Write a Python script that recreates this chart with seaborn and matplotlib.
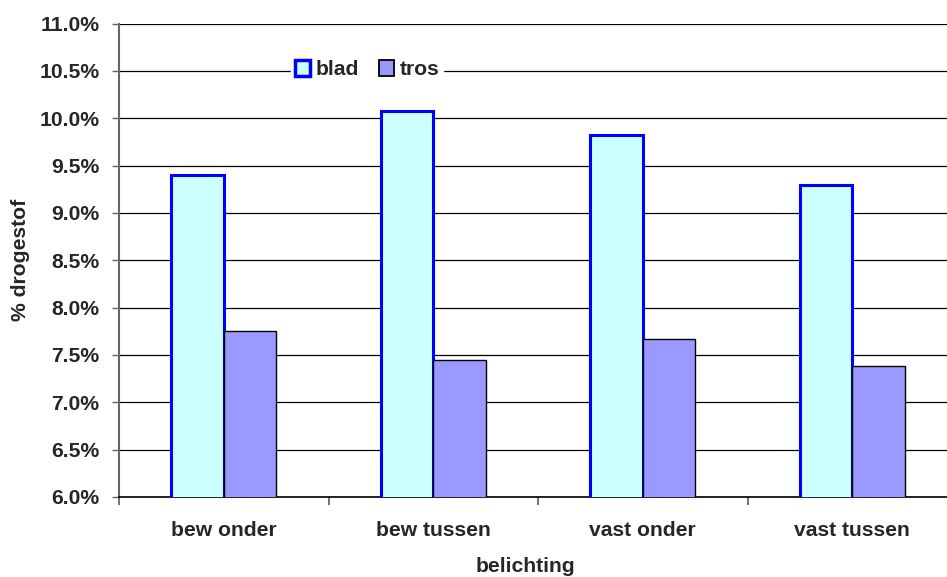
import matplotlib
matplotlib.use("Agg")
import matplotlib.pyplot as plt
from matplotlib.patches import Patch
from matplotlib.ticker import FuncFormatter, MultipleLocator, FixedLocator
import seaborn as sns
import pandas as pd

# data
categories = ["bew onder", "bew tussen", "vast onder", "vast tussen"]
blad = [9.40, 10.08, 9.82, 9.29]
tros = [7.75, 7.45, 7.67, 7.38]
series = ["blad", "tros"]

df = pd.DataFrame({
    "belichting": categories * 2,
    "serie": ["blad"] * len(categories) + ["tros"] * len(categories),
    "drogestof": blad + tros,
})

sns.set_style("white")
plt.rcParams["font.family"] = ["Liberation Sans", "DejaVu Sans"]
plt.rcParams["font.weight"] = "bold"

FS = 15.2

fig = plt.figure(figsize=(9.47, 5.77), dpi=100)
ax = fig.add_axes([119 / 947, 1 - 497 / 577, 838 / 947, (497 - 23.5) / 577])

face = {"blad": "#CCFFFF", "tros": "#9999FF"}
edge = {"blad": "#0000FF", "tros": "#000000"}
lw = {"blad": 2.2, "tros": 1.0}

sns.barplot(data=df, x="belichting", y="drogestof", hue="serie", order=categories,
            hue_order=series, width=0.5, dodge=True, ax=ax, legend=False,
            palette=face, saturation=1)

# style bars per series (containers follow hue order)
for cont, s in zip(ax.containers, series):
    for bar in cont:
        bar.set_facecolor(face[s])
        bar.set_edgecolor(edge[s])
        bar.set_linewidth(lw[s])
        bar.set_zorder(3)

ax.set_ylim(6.0, 11.0)
ax.set_xlim(-0.5, len(categories) - 0.5)
ax.yaxis.set_major_locator(MultipleLocator(0.5))
ax.yaxis.set_major_formatter(FuncFormatter(lambda v, p: f"{v:.1f}%"))
ax.grid(axis="y", color="black", linewidth=0.9, zorder=0)
ax.set_axisbelow(True)

for side in ["top", "right"]:
    ax.spines[side].set_visible(False)
ax.spines["left"].set_color("#666666")
ax.spines["left"].set_linewidth(1.5)
ax.spines["bottom"].set_color("black")
ax.spines["bottom"].set_linewidth(1.2)

ax.tick_params(axis="y", which="major", direction="out", length=5, width=1,
               color="#666666", pad=9, labelsize=FS, left=True)
ax.tick_params(axis="x", which="major", length=0, pad=17, labelsize=FS)
ax.xaxis.set_minor_locator(FixedLocator([i - 0.5 for i in range(len(categories) + 1)]))
ax.tick_params(axis="x", which="minor", direction="out", length=6, width=1.3,
               color="#666666", bottom=True)
for lab in ax.get_xticklabels() + ax.get_yticklabels():
    lab.set_fontweight("bold")

ax.set_xlabel("")
ax.set_ylabel("")
fig.text(525 / 947, 1 - 566 / 577, "belichting", ha="center", va="center",
         fontsize=FS, fontweight="bold")
fig.text(20 / 947, 1 - 260 / 577, "% drogestof", ha="center", va="center",
         rotation=90, fontsize=FS, fontweight="bold")

handles = [Patch(facecolor=face[s], edgecolor=edge[s], linewidth=lw[s] + 0.3) for s in series]
leg = ax.legend(handles, series, loc="center", bbox_to_anchor=(0.296, 0.902),
                ncol=2, frameon=True, fancybox=False, framealpha=1,
                edgecolor="white", facecolor="white",
                handlelength=0.72, handleheight=0.72, handletextpad=0.25,
                columnspacing=0.95, borderpad=0.2,
                prop={"size": FS, "weight": "bold"})
leg.set_zorder(5)

fig.savefig("out.png", dpi=100)
